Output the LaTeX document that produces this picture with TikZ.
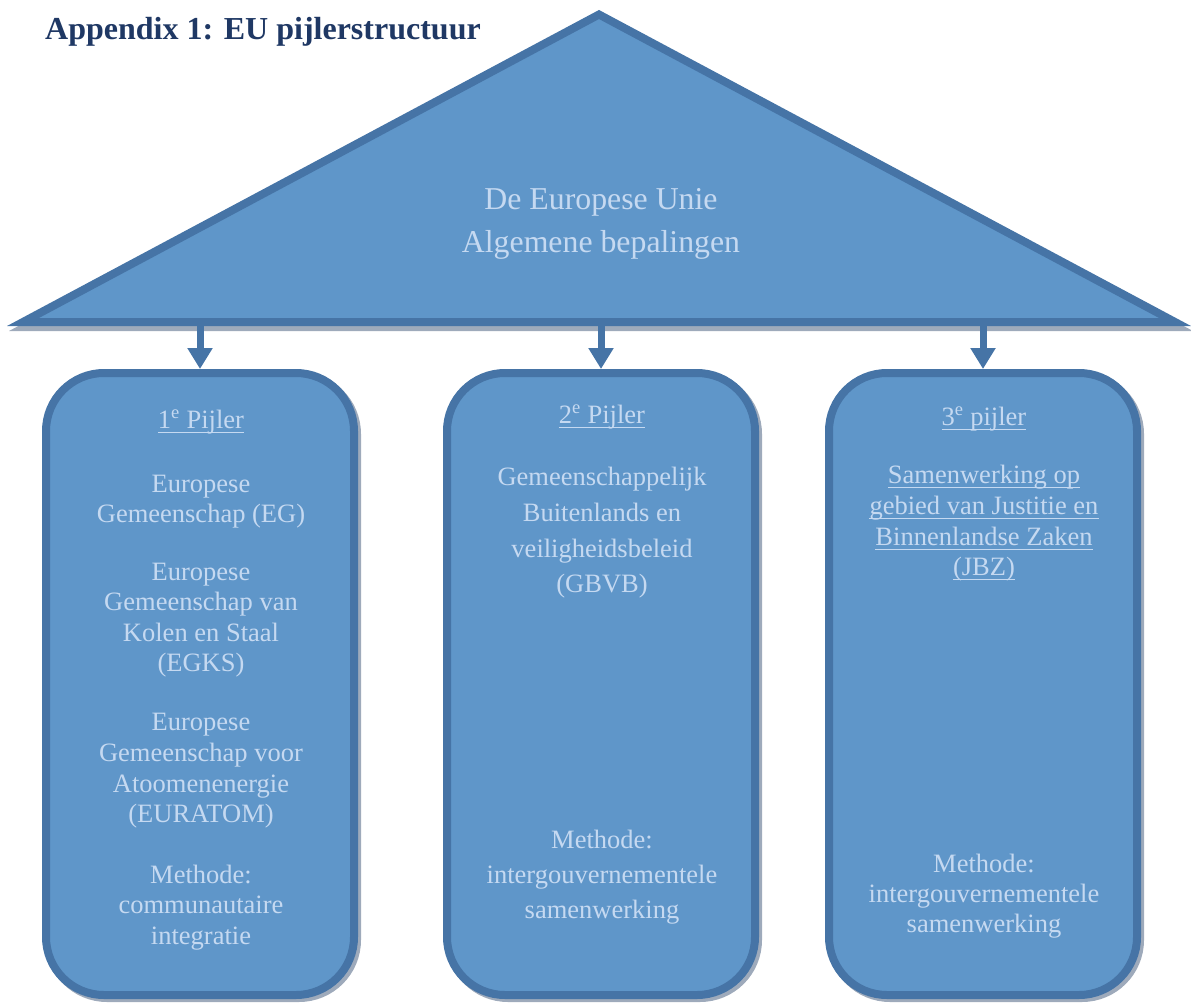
\documentclass[tikz,border=0pt]{standalone}
\usepackage{fontspec}
\setmainfont{Liberation Serif}
\usetikzlibrary{arrows.meta}
\definecolor{fillblue}{RGB}{95,150,201}
\definecolor{edgeblue}{RGB}{70,116,166}
\definecolor{txtblue}{RGB}{197,217,241}
\definecolor{titleblue}{RGB}{31,56,100}
\definecolor{shadowgray}{RGB}{158,170,187}
\newcommand\pline[4]{\node[txt] (#1) at (#2,#3) {#4};}
\newcommand\uline[1]{\draw[ulstyle] ([yshift=-4.5pt]#1.base west) -- ([yshift=-4.5pt]#1.base east);}
\begin{document}
\begin{tikzpicture}[x=1pt,y=-1pt,
  pillar/.style={draw=edgeblue, fill=fillblue, line width=8pt, rounded corners=58pt,
    minimum width=308pt, minimum height=622pt, inner sep=0pt},
  pshadow/.style={pillar, draw=shadowgray, fill=shadowgray},
  txt/.style={text=txtblue, font=\fontsize{26.5}{30}\selectfont, inner sep=0pt, anchor=base},
  bigtxt/.style={txt, font=\fontsize{31.8}{36}\selectfont},
  ulstyle/.style={draw=txtblue, line width=1.3pt},
  arr/.style={draw=edgeblue, line width=7pt, -{Triangle[width=24pt,length=21pt]}},
  roof/.style={draw=edgeblue, fill=fillblue, line width=8pt, line join=miter},
  roofshadow/.style={draw=shadowgray, fill=shadowgray, line width=8pt, line join=miter}]
\useasboundingbox (0,0) rectangle (1191,1003);

% title
\node[anchor=base west, inner sep=0pt, text=titleblue,
  font=\bfseries\fontsize{32}{36}\selectfont] (title) at (45,40) {Appendix 1: EU pijlerstructuur};

% roof
\coordinate (L) at (23,322);
\coordinate (R) at (1175,322);
\coordinate (A) at (599,14.5);
\draw[roofshadow] ([shift={(2pt,-5pt)}]L) -- ([shift={(2pt,-5pt)}]A) -- ([shift={(2pt,-5pt)}]R) -- cycle;
\draw[roof] (L) -- (A) -- (R) -- cycle;
\node[bigtxt] (eu1) at (601,210) {De Europese Unie};
\node[bigtxt] (eu2) at (601,252) {Algemene bepalingen};

% pillars
\node[pshadow] (s1) at (203,687) {};
\node[pshadow] (s2) at (604,687) {};
\node[pshadow] (s3) at (986,687) {};
\node[pillar] (p1) at (200,684) {};
\node[pillar] (p2) at (601,684) {};
\node[pillar] (p3) at (983,684) {};

% arrows
\coordinate (t1) at (200,323);
\coordinate (t2) at (601,323);
\coordinate (t3) at (983,323);
\draw[arr] (t1) -- (p1.north);
\draw[arr] (t2) -- (p2.north);
\draw[arr] (t3) -- (p3.north);

% pillar 1
\pline{a0}{201}{428}{1\textsuperscript{e} Pijler}
\uline{a0}
\pline{a1}{201}{492}{Europese}
\pline{a2}{201}{522}{Gemeenschap (EG)}
\pline{a3}{201}{580}{Europese}
\pline{a4}{201}{610}{Gemeenschap van}
\pline{a5}{201}{641}{Kolen en Staal}
\pline{a6}{201}{671}{(EGKS)}
\pline{a7}{201}{730}{Europese}
\pline{a8}{201}{761}{Gemeenschap voor}
\pline{a9}{201}{792}{Atoomenenergie}
\pline{a10}{201}{822}{(EURATOM)}
\pline{a11}{201}{883}{Methode:}
\pline{a12}{201}{913}{communautaire}
\pline{a13}{201}{944}{integratie}

% pillar 2
\pline{b0}{602}{423}{2\textsuperscript{e} Pijler}
\uline{b0}
\pline{b1}{602}{485}{Gemeenschappelijk}
\pline{b2}{602}{521}{Buitenlands en}
\pline{b3}{602}{557}{veiligheidsbeleid}
\pline{b4}{602}{592}{(GBVB)}
\pline{b5}{602}{848}{Methode:}
\pline{b6}{602}{883}{intergouvernementele}
\pline{b7}{602}{918}{samenwerking}

% pillar 3
\pline{c0}{984}{425}{3\textsuperscript{e} pijler}
\uline{c0}
\pline{c1}{984}{483}{Samenwerking op}
\uline{c1}
\pline{c2}{984}{514}{gebied van Justitie en}
\uline{c2}
\pline{c3}{984}{545}{Binnenlandse Zaken}
\uline{c3}
\pline{c4}{984}{575}{(JBZ)}
\uline{c4}
\pline{c5}{984}{872}{Methode:}
\pline{c6}{984}{902}{intergouvernementele}
\pline{c7}{984}{932}{samenwerking}
\end{tikzpicture}
\end{document}
